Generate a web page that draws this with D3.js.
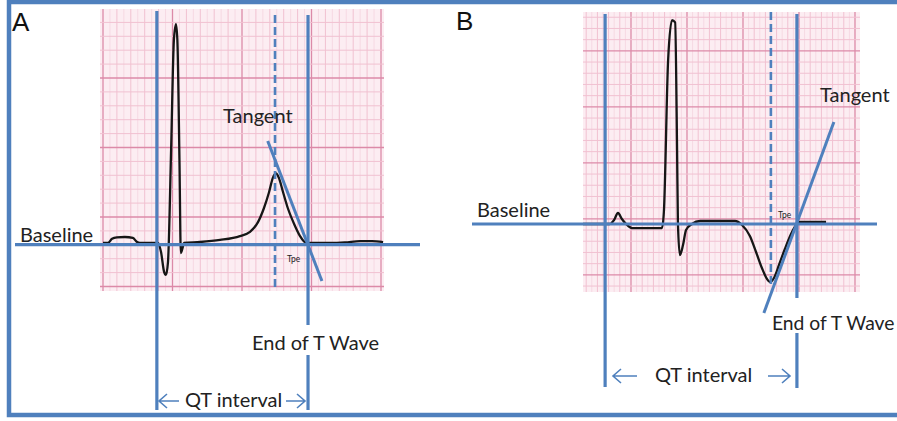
<!DOCTYPE html>
<html>
<head>
<meta charset="utf-8">
<script src="https://cdnjs.cloudflare.com/ajax/libs/d3/7.8.5/d3.min.js"></script>
<style>
  html, body { margin: 0; padding: 0; background: #fff; }
  svg { display: block; }
  .lbl { font-family: Lato, "Open Sans", sans-serif; fill: #222; }
  .panel { font-family: "Liberation Sans", Arial, sans-serif; fill: #111; }
</style>
</head>
<body>
<svg id="fig" width="897" height="421"></svg>
<script>
// ---- Panel A: upright T wave (time in s, amplitude in mV from the isoelectric line)
const timeA = [0.000, 0.014, 0.026, 0.040, 0.063, 0.086, 0.098, 0.106, 0.158, 0.167, 0.176, 0.181, 0.187,
               0.196, 0.204, 0.210, 0.214, 0.220, 0.224, 0.229, 0.233, 0.279, 0.337, 0.394, 0.423, 0.446,
               0.463, 0.478, 0.489, 0.498, 0.506, 0.518, 0.532, 0.550, 0.567, 0.581, 0.596, 0.653, 0.696,
               0.740, 0.774, 0.806];
const voltA = [0.000, 0.000, 0.030, 0.040, 0.043, 0.036, 0.007, 0.000, 0.000, -0.065, -0.210, -0.230, -0.137,
               0.670, 1.460, 1.575, 1.460, 0.600, -0.072, -0.036, 0.000, 0.007, 0.022, 0.050, 0.080, 0.150,
               0.250, 0.367, 0.470, 0.500, 0.470, 0.367, 0.250, 0.137, 0.050, 0.007, 0.000, 0.000, 0.004,
               0.014, 0.014, 0.007];
const qOnsetA = 0.155;      // start of QRS
const tPeakA = 0.495;       // T-wave peak (dashed marker)
const tEndA = 0.590;        // end of T wave
const baselineA = -0.012;   // drawn isoelectric line
const tangentTimeA = [0.474, 0.630];
const tangentVoltA = [0.734, -0.273];

// ---- Panel B: inverted T wave
const timeB = [0.000, 0.096, 0.111, 0.125, 0.139, 0.154, 0.175, 0.282, 0.289, 0.304, 0.318, 0.329, 0.336,
               0.339, 0.346, 0.357, 0.368, 0.389, 0.418, 0.543, 0.568, 0.596, 0.618, 0.639, 0.657, 0.668,
               0.682, 0.700, 0.721, 0.743, 0.761, 0.775, 0.868];
const voltB = [0.000, 0.000, 0.036, 0.098, 0.045, 0.000, -0.036, -0.036, 0.116, 1.464, 1.820, 1.800, 0.660,
               0.010, -0.277, -0.190, -0.054, 0.000, 0.027, 0.027, -0.009, -0.107, -0.250, -0.393, -0.490, -0.518,
               -0.482, -0.366, -0.223, -0.089, -0.009, 0.018, 0.018];
const qOnsetB = 0.079;
const tPeakB = 0.671;
const tEndB = 0.764;
const baselineB = 0.0;
const tangentTimeB = [0.896, 0.646];
const tangentVoltB = [0.911, -0.795];

// labels
const panelLetters = ["A", "B"];
const textBaseline = "Baseline";
const textTangent = "Tangent";
const textTpe = "Tpe";
const textEnd = "End of T Wave";
const textQT = "QT interval";

const BLUE = "#4f80bd";
const svg = d3.select("#fig");

// outer frame
svg.append("rect").attr("x", 9).attr("y", 2).attr("width", 900).attr("height", 413)
  .attr("fill", "none").attr("stroke", BLUE).attr("stroke-width", 4.5);

// ECG paper: minor lines every 0.04 s / 0.1 mV, major every fifth
function drawPaper(g, x, y, box, tOff, vOff) {
  const [px0, px1] = box.x, [py0, py1] = box.y;
  g.append("rect").attr("x", px0).attr("y", py0).attr("width", px1 - px0).attr("height", py1 - py0)
    .attr("fill", "#fcedf2");
  const tMin = x.invert(px0), tMax = x.invert(px1);
  const vMin = y.invert(py1), vMax = y.invert(py0);
  const vt = [], hv = [];
  for (let k = Math.ceil((tMin - tOff) / 0.04); tOff + k * 0.04 <= tMax; k++) vt.push({ t: tOff + k * 0.04, major: k % 5 === 0 });
  for (let k = Math.ceil((vMin - vOff) / 0.1); vOff + k * 0.1 <= vMax; k++) hv.push({ v: vOff + k * 0.1, major: k % 5 === 0 });
  // faint sub-division lines between minor lines
  g.selectAll(null).data(vt).join("line")
    .attr("x1", d => x(d.t + 0.02)).attr("x2", d => x(d.t + 0.02))
    .attr("y1", py0).attr("y2", py1)
    .attr("stroke", "#f6d9e3").attr("stroke-width", 1)
    .attr("display", d => x(d.t + 0.02) > px1 ? "none" : null);
  g.selectAll(null).data(vt).join("line")
    .attr("x1", d => x(d.t)).attr("x2", d => x(d.t)).attr("y1", py0).attr("y2", py1)
    .attr("stroke", d => d.major ? "#dc8aa8" : "#f1c1d1")
    .attr("stroke-width", d => d.major ? 1.3 : 1);
  g.selectAll(null).data(hv).join("line")
    .attr("y1", d => y(d.v)).attr("y2", d => y(d.v)).attr("x1", px0).attr("x2", px1)
    .attr("stroke", d => d.major ? "#dc8aa8" : "#f1c1d1")
    .attr("stroke-width", d => d.major ? 1.3 : 1);
}

function arrow(g, xFrom, xTo, yy) {
  const dir = Math.sign(xTo - xFrom);
  g.append("path")
    .attr("d", `M${xFrom},${yy}L${xTo},${yy}M${xTo - dir * 8},${yy - 7}L${xTo},${yy}L${xTo - dir * 8},${yy + 7}`)
    .attr("fill", "none").attr("stroke", BLUE).attr("stroke-width", 1.6);
}

function panel(cfg) {
  const g = svg.append("g");
  const x = d3.scaleLinear().domain(cfg.tDomain).range(cfg.xRange);
  const y = d3.scaleLinear().domain(cfg.vDomain).range(cfg.yRange);
  drawPaper(g, x, y, cfg.paper, cfg.tOff, cfg.vOff);

  // trace
  const pts = cfg.time.map((t, i) => [t, cfg.volt[i]]);
  g.append("path").datum(pts)
    .attr("d", d3.line().x(d => x(d[0])).y(d => y(d[1])).curve(d3.curveMonotoneX))
    .attr("fill", "none").attr("stroke", "#161616").attr("stroke-width", 2.3)
    .attr("stroke-linejoin", "round");

  // baseline
  const yb = y(cfg.baseline);
  g.append("line").attr("x1", cfg.baseX[0]).attr("x2", cfg.baseX[1]).attr("y1", yb).attr("y2", yb)
    .attr("stroke", BLUE).attr("stroke-width", 3.2);

  // QRS onset
  const xq = x(cfg.qOnset);
  g.append("line").attr("x1", xq).attr("x2", xq).attr("y1", cfg.qY[0]).attr("y2", cfg.qY[1])
    .attr("stroke", BLUE).attr("stroke-width", 3.2);

  // T peak (dashed)
  const xp = x(cfg.tPeak);
  g.append("line").attr("x1", xp).attr("x2", xp).attr("y1", cfg.pY[0]).attr("y2", cfg.pY[1])
    .attr("stroke", BLUE).attr("stroke-width", 2.6).attr("stroke-dasharray", "8,4");

  // end of T wave, broken around its label
  const xe = x(cfg.tEnd);
  cfg.eY.forEach(seg => g.append("line").attr("x1", xe).attr("x2", xe).attr("y1", seg[0]).attr("y2", seg[1])
    .attr("stroke", BLUE).attr("stroke-width", 3.2));

  // tangent to the terminal limb of the T wave
  g.append("line")
    .attr("x1", x(cfg.tanT[0])).attr("y1", y(cfg.tanV[0]))
    .attr("x2", x(cfg.tanT[1])).attr("y2", y(cfg.tanV[1]))
    .attr("stroke", BLUE).attr("stroke-width", 3);

  // labels
  g.append("text").attr("class", "panel").attr("x", cfg.letterPos[0]).attr("y", cfg.letterPos[1])
    .attr("font-size", 26).text(cfg.letter);
  g.append("text").attr("class", "lbl").attr("x", cfg.basePos[0]).attr("y", cfg.basePos[1])
    .attr("font-size", 20).text(textBaseline);
  g.append("text").attr("class", "lbl").attr("x", cfg.tanPos[0]).attr("y", cfg.tanPos[1])
    .attr("font-size", 20).text(textTangent);
  g.append("text").attr("class", "lbl").attr("x", xp + cfg.tpeDx).attr("y", cfg.tpeY)
    .attr("font-size", 8.5).text(textTpe);
  g.append("text").attr("class", "lbl").attr("x", cfg.endPos[0]).attr("y", cfg.endPos[1])
    .attr("font-size", cfg.endSize).text(textEnd);

  // QT interval
  g.append("text").attr("class", "lbl").attr("x", cfg.qtPos[0]).attr("y", cfg.qtPos[1])
    .attr("font-size", 20).text(textQT);
  arrow(g, cfg.arrowL[1], cfg.arrowL[0], cfg.arrowY);
  arrow(g, cfg.arrowR[0], cfg.arrowR[1], cfg.arrowY);
}

panel({
  letter: panelLetters[0], time: timeA, volt: voltA,
  tDomain: [0, 0.8], xRange: [103, 381],
  vDomain: [-0.313, 1.687], yRange: [286.5, 8.5],
  paper: { x: [100, 384], y: [9, 291] }, tOff: 0, vOff: -0.313,
  baseline: baselineA, baseX: [15, 420],
  qOnset: qOnsetA, qY: [11, 410],
  tPeak: tPeakA, pY: [15, 290],
  tEnd: tEndA, eY: [[15, 325], [355, 410]],
  tanT: tangentTimeA, tanV: tangentVoltA,
  letterPos: [12, 31], basePos: [20, 242], tanPos: [223, 123],
  tpeDx: 12, tpeY: 262, endPos: [252, 350], endSize: 20,
  qtPos: [185, 407], arrowL: [159, 179], arrowR: [286, 305], arrowY: 401
});

panel({
  letter: panelLetters[1], time: timeB, volt: voltB,
  tDomain: [0, 1], xRange: [583, 863],
  vDomain: [-0.6, 1.9], yRange: [291.2, 11.2],
  paper: { x: [583, 860], y: [12, 292] }, tOff: -0.0286, vOff: 0.046,
  baseline: baselineB, baseX: [472, 877],
  qOnset: qOnsetB, qY: [14, 387],
  tPeak: tPeakB, pY: [12, 288],
  tEnd: tEndB, eY: [[14, 298], [333, 388]],
  tanT: tangentTimeB, tanV: tangentVoltB,
  letterPos: [456, 30], basePos: [477, 217], tanPos: [820, 102],
  tpeDx: 7, tpeY: 218, endPos: [772, 330], endSize: 19.3,
  qtPos: [655, 382], arrowL: [613, 637], arrowR: [768, 790], arrowY: 376
});
</script>
</body>
</html>
